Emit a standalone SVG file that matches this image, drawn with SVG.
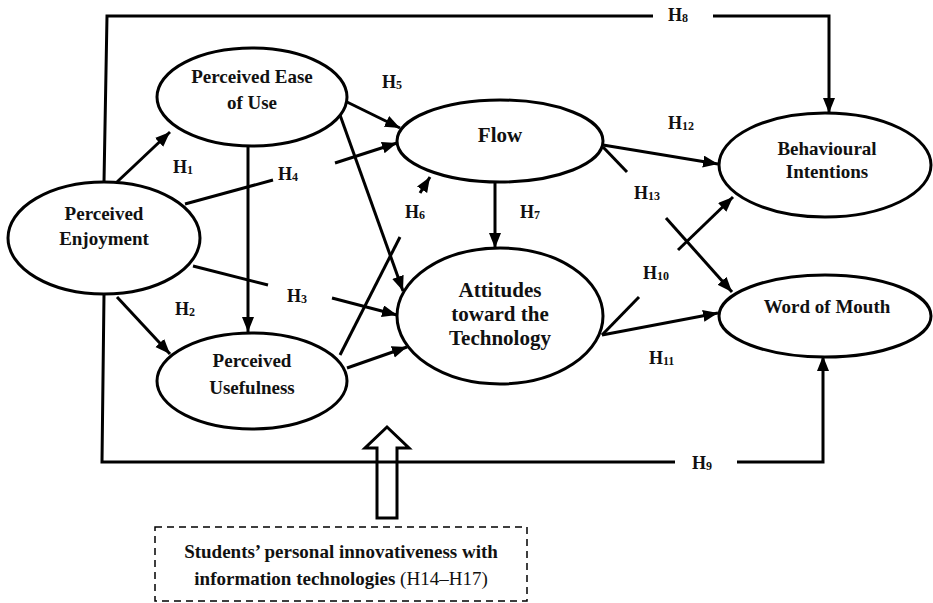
<svg xmlns="http://www.w3.org/2000/svg" width="933" height="603" viewBox="0 0 933 603">
<style>
  .node ellipse { fill: #fff; stroke: #000; stroke-width: 3; }
  .nt { font-family: "Liberation Serif", "Times New Roman", serif; font-weight: bold; font-size: 19px; text-anchor: middle; fill: #111; }
  .big { font-size: 21px; }
  .lbl { font-family: "Liberation Serif", "Times New Roman", serif; font-weight: bold; font-size: 18px; fill: #111; }
  .sub { font-size: 12px; }
  #connectors line, #connectors polyline { stroke: #000; stroke-width: 3; fill: none; }
  .arr { marker-end: url(#ah); }
  .box { font-family: "Liberation Serif", "Times New Roman", serif; font-size: 19px; text-anchor: middle; fill: #111; }
</style>
<defs>
  <marker id="ah" markerUnits="userSpaceOnUse" markerWidth="16" markerHeight="14" refX="15" refY="6" orient="auto">
    <path d="M0,0 L15,6 L0,12 Z" fill="#000"/>
  </marker>
</defs>
<rect width="933" height="603" fill="#fff"/>

<g id="connectors">
  <line class="arr" x1="117" y1="182" x2="170" y2="132"/>
  <line class="arr" x1="117" y1="297" x2="170" y2="354"/>
  <line x1="193" y1="266" x2="268" y2="285"/>
  <line class="arr" x1="332" y1="298" x2="397" y2="315"/>
  <line x1="185" y1="204" x2="273" y2="180"/>
  <line class="arr" x1="335" y1="163" x2="397" y2="143"/>
  <line class="arr" x1="347" y1="102" x2="400" y2="128"/>
  <line class="arr" x1="340" y1="115" x2="403" y2="291"/>
  <line class="arr" x1="248" y1="146" x2="248" y2="332"/>
  <line x1="340" y1="355" x2="400" y2="237"/>
  <line class="arr" x1="420" y1="193" x2="430" y2="177"/>
  <line class="arr" x1="495" y1="182" x2="495" y2="248"/>
  <line class="arr" x1="347" y1="368" x2="407" y2="347"/>
  <polyline points="104,182 107,16 653,16"/>
  <polyline class="arr" points="713,16 829,16 829,113"/>
  <polyline points="104,294 102,462 675,462"/>
  <polyline class="arr" points="737,462 823,462 823,356"/>
  <line class="arr" x1="603" y1="145" x2="718" y2="164"/>
  <line x1="603" y1="147" x2="627" y2="172"/>
  <line class="arr" x1="666" y1="218" x2="732" y2="292"/>
  <line x1="602" y1="335" x2="639" y2="297"/>
  <line class="arr" x1="678" y1="250" x2="733" y2="197"/>
  <line class="arr" x1="602" y1="335" x2="718" y2="313"/>
</g>

<g id="labels">
  <text class="lbl" x="173" y="173">H<tspan class="sub" dy="1">1</tspan></text>
  <text class="lbl" x="175" y="315">H<tspan class="sub" dy="1">2</tspan></text>
  <text class="lbl" x="287" y="302">H<tspan class="sub" dy="1">3</tspan></text>
  <text class="lbl" x="278" y="180">H<tspan class="sub" dy="1">4</tspan></text>
  <text class="lbl" x="382" y="88">H<tspan class="sub" dy="1">5</tspan></text>
  <text class="lbl" x="405" y="218">H<tspan class="sub" dy="1">6</tspan></text>
  <text class="lbl" x="520" y="218">H<tspan class="sub" dy="1">7</tspan></text>
  <text class="lbl" x="668" y="21">H<tspan class="sub" dy="1">8</tspan></text>
  <text class="lbl" x="692" y="469">H<tspan class="sub" dy="1">9</tspan></text>
  <text class="lbl" x="643" y="279">H<tspan class="sub" dy="1">10</tspan></text>
  <text class="lbl" x="649" y="364">H<tspan class="sub" dy="1">11</tspan></text>
  <text class="lbl" x="668" y="129">H<tspan class="sub" dy="1">12</tspan></text>
  <text class="lbl" x="634" y="199">H<tspan class="sub" dy="1">13</tspan></text>
</g>

<g id="peou" class="node">
  <ellipse cx="252" cy="97" rx="95" ry="49"/>
  <text class="nt" x="252" y="83">Perceived Ease</text>
  <text class="nt" x="252" y="109">of Use</text>
</g>
<g id="pe" class="node">
  <ellipse cx="104" cy="238" rx="96" ry="56"/>
  <text class="nt" x="104" y="220">Perceived</text>
  <text class="nt" x="104" y="245">Enjoyment</text>
</g>
<g id="pu" class="node">
  <ellipse cx="252" cy="381" rx="95" ry="48"/>
  <text class="nt" x="252" y="367">Perceived</text>
  <text class="nt" x="252" y="394">Usefulness</text>
</g>
<g id="flow" class="node">
  <ellipse cx="500" cy="141" rx="103" ry="41"/>
  <text class="nt big" x="500" y="142">Flow</text>
</g>
<g id="att" class="node">
  <ellipse cx="500" cy="316" rx="103" ry="68"/>
  <text class="nt big" x="500" y="297">Attitudes</text>
  <text class="nt big" x="500" y="321">toward the</text>
  <text class="nt big" x="500" y="345">Technology</text>
</g>
<g id="bi" class="node">
  <ellipse cx="825" cy="165" rx="106" ry="52"/>
  <text class="nt" x="827" y="155">Behavioural</text>
  <text class="nt" x="827" y="178">Intentions</text>
</g>
<g id="wom" class="node">
  <ellipse cx="825" cy="316" rx="106" ry="41"/>
  <text class="nt" x="827" y="313">Word of Mouth</text>
</g>

<g id="moderator">
  <polygon points="387,427 409,448 397,448 397,518 377,518 377,448 365,448" fill="none" stroke="#000" stroke-width="3"/>
  <rect x="155" y="527" width="372" height="74" fill="none" stroke="#000" stroke-width="1.5" stroke-dasharray="7,5"/>
  <text class="box" x="341" y="558" font-weight="bold">Students’ personal innovativeness with</text>
  <text class="box" x="341" y="585"><tspan font-weight="bold">information technologies</tspan> (H14–H17)</text>
</g>
</svg>
